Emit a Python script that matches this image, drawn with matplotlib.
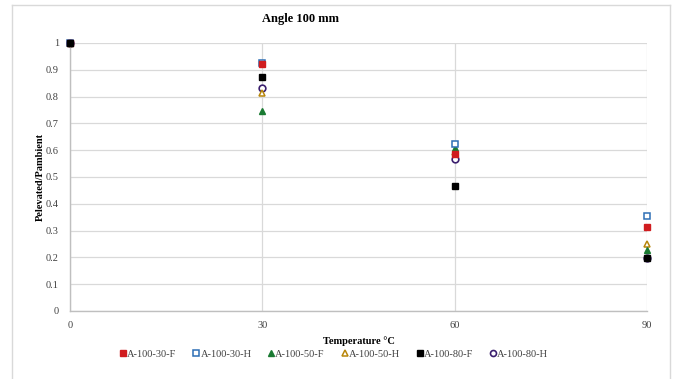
import matplotlib
matplotlib.use("Agg")
import matplotlib.pyplot as plt
from matplotlib.lines import Line2D

plt.rcParams['font.family'] = ['Liberation Serif', 'DejaVu Serif']

temperature = [0, 30, 60, 90]
series_names = ["A-100-30-F", "A-100-30-H", "A-100-50-F", "A-100-50-H", "A-100-80-F", "A-100-80-H"]
a_100_30_f = [1.0, 0.920, 0.585, 0.313]
a_100_30_h = [1.0, 0.925, 0.623, 0.354]
a_100_50_f = [1.0, 0.746, 0.608, 0.228]
a_100_50_h = [1.0, 0.813, 0.592, 0.250]
a_100_80_f = [1.0, 0.873, 0.465, 0.198]
a_100_80_h = [1.0, 0.832, 0.567, 0.198]
y_ticks = [0, 0.1, 0.2, 0.3, 0.4, 0.5, 0.6, 0.7, 0.8, 0.9, 1]
y_tick_labels = ["0", "0.1", "0.2", "0.3", "0.4", "0.5", "0.6", "0.7", "0.8", "0.9", "1"]
x_ticks = [0, 30, 60, 90]

styles = [
    dict(marker='s', mfc='#d01c1f', mec='#d01c1f', ms=4.2),
    dict(marker='s', mfc='white', mec='#2e6fb5', ms=4.8, mew=1.1),
    dict(marker='^', mfc='#1a7a32', mec='#1a7a32', ms=4.4),
    dict(marker='^', mfc='white', mec='#b8860b', ms=4.8, mew=1.1),
    dict(marker='s', mfc='#000000', mec='#000000', ms=4.2),
    dict(marker='o', mfc='white', mec='#3b1f6e', ms=4.8, mew=1.2),
]
series = [a_100_30_f, a_100_30_h, a_100_50_f, a_100_50_h, a_100_80_f, a_100_80_h]
# filled markers sit above the hollow ones
z_orders = [6, 5, 4, 3, 8, 2]

fig = plt.figure(figsize=(6.75, 3.79), dpi=100)
ax = fig.add_axes([70/675, 1 - 311/379, (647-70)/675, (311-43)/379])

for name, vals, st, z in zip(series_names, series, styles, z_orders):
    ax.plot(temperature, vals, linestyle='none', label=name, zorder=z, clip_on=False, **st)

ax.set_xlim(0, 90)
ax.set_ylim(0, 1)
ax.set_xticks(x_ticks)
ax.set_yticks(y_ticks)
ax.set_yticklabels(y_tick_labels)
ax.grid(True, color='#d9d9d9', linewidth=0.9)
ax.set_axisbelow(True)
for s in ['top', 'right']:
    ax.spines[s].set_visible(False)
for s in ['left', 'bottom']:
    ax.spines[s].set_color('#bfbfbf')
    ax.spines[s].set_linewidth(1.0)
ax.tick_params(axis='both', length=0, labelsize=7.5, colors='#404040')
ax.tick_params(axis='y', pad=8)
ax.tick_params(axis='x', pad=7)

ax.set_xlabel("Temperature \u00b0C", fontsize=7.5, fontweight='bold', labelpad=5)
ax.set_ylabel("Pelevated/Pambient", fontsize=7.5, fontweight='bold', labelpad=1)
fig.text(300/675, 1 - 19/379, "Angle 100 mm", fontsize=9, fontweight='bold',
         ha='center', va='center')

handles = [Line2D([], [], linestyle='none', **dict(st, ms=st['ms']*0.9)) for st in styles]
fig.legend(handles, series_names, loc='center', bbox_to_anchor=(334/675, 1 - 354/379),
           ncol=6, frameon=False, fontsize=7.5, handlelength=0.6, handletextpad=0.1,
           columnspacing=1.6, labelcolor='#404040')

# chart frame
frame_color = '#d9d9d9'
fig.add_artist(Line2D([12/675, 12/675], [0, 1 - 5/379], color=frame_color, lw=1))
fig.add_artist(Line2D([670/675, 670/675], [0, 1 - 5/379], color=frame_color, lw=1))
fig.add_artist(Line2D([12/675, 670/675], [1 - 5/379, 1 - 5/379], color=frame_color, lw=1))

fig.savefig("out.png", dpi=100)
